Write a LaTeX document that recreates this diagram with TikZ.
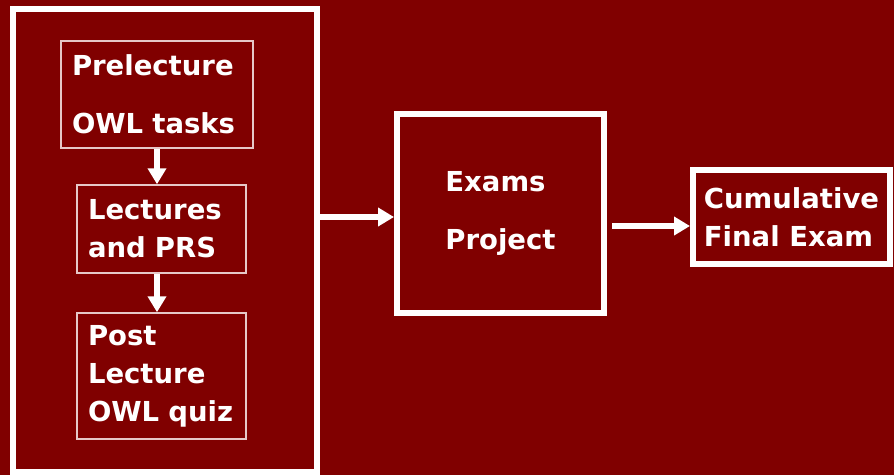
\documentclass[tikz,border=0pt]{standalone}
\usepackage{fontspec}
\setmainfont{DejaVu Sans}
\usetikzlibrary{arrows.meta}
\definecolor{maroonbg}{HTML}{800000}
\definecolor{thinedge}{HTML}{E6C8C8}
\tikzset{
  stage/.style={draw=thinedge, line width=1.5pt, inner xsep=11pt, align=left,
    text=white, font=\bfseries\fontsize{27.5pt}{38pt}\selectfont},
  bigbox/.style={draw=white, line width=6pt, align=left, text=white,
    font=\bfseries\fontsize{27.5pt}{38pt}\selectfont},
  flow/.style={draw=white, line width=5.5pt, -{Triangle[width=18pt,length=16pt]}},
}
\begin{document}
\begin{tikzpicture}[x=1pt,y=-1pt]
    \fill[maroonbg] (0,0) rectangle (894,475);
    \useasboundingbox (0,0) rectangle (894,475);
    % left column
    \node[bigbox, minimum width=304pt, minimum height=463pt] (course) at (165,240.5) {};
    \node[stage, text width=170pt, minimum height=107pt,
          font=\bfseries\fontsize{27.5pt}{58pt}\selectfont] (pre) at (157,94.5) {Prelecture\\OWL tasks};
    \node[stage, text width=147pt, minimum height=88pt] (lect) at (161.5,229) {Lectures\\and PRS};
    \node[stage, text width=147pt, minimum height=126pt] (post) at (161.5,376) {Post\\Lecture\\OWL quiz};
    % right side
    \node[bigbox, minimum width=207pt, minimum height=199pt,
          font=\bfseries\fontsize{27.5pt}{58pt}\selectfont] (exams) at (500.5,213.5) {Exams\\Project};
    \node[bigbox, minimum width=197pt, minimum height=94pt] (cumul) at (791.5,217) {Cumulative\\Final Exam};
    % arrows
    \draw[flow] (pre.south) -- (pre.south |- lect.north);
    \draw[flow] (lect.south -| pre.south) -- (pre.south |- post.north);
    \coordinate (a1) at ([yshift=-3.5pt]course.east |- exams.west);
    \draw[flow] (a1) -- (a1 -| exams.west);
    \coordinate (a2) at ([xshift=5pt,yshift=-12.5pt]exams.east);
    \draw[flow] (a2) -- (a2 -| cumul.west);
\end{tikzpicture}
\end{document}
